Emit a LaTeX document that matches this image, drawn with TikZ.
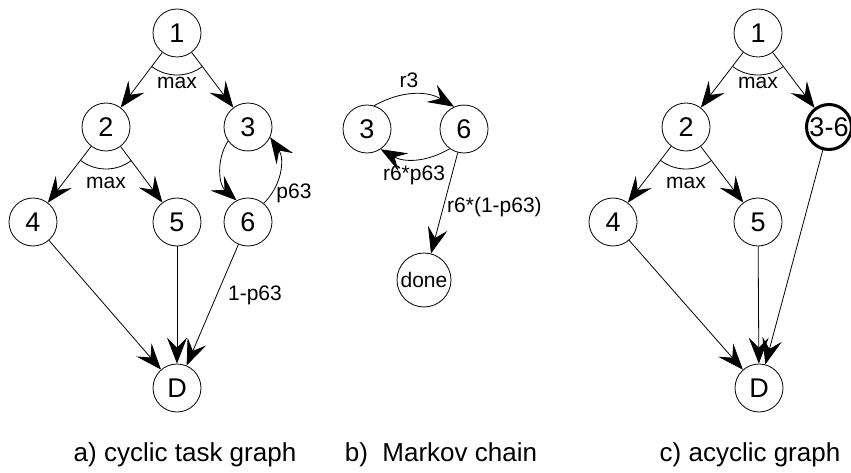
\documentclass[tikz,border=0pt]{standalone}
\usepackage{fontspec}
\setmainfont{Liberation Sans}
\usetikzlibrary{arrows.meta}

\begin{document}
\begin{tikzpicture}[x=1pt,y=-1pt,
    state/.style={draw,circle,minimum size=48pt,inner sep=0pt,line width=0.8pt,font=\fontsize{27}{30}\selectfont},
    edge/.style={-{Stealth[length=26pt,width=20pt,inset=10pt]},line width=0.8pt},
    maxarc/.style={line width=0.8pt},
    lbl/.style={font=\fontsize{21}{24}\selectfont,inner sep=0pt},
    caption/.style={font=\fontsize{26}{30}\selectfont,inner sep=0pt}]
\useasboundingbox (0,0) rectangle (851,473);

% a) cyclic task graph
\node[state] (a1) at (177,33) {1};
\node[state] (a2) at (106,127) {2};
\node[state] (a3) at (248,127) {3};
\node[state] (a4) at (33,222) {4};
\node[state] (a5) at (177,222) {5};
\node[state] (a6) at (248,222) {6};
\node[state] (aD) at (177,388) {D};
\draw[edge] (a1) -- (a2);
\draw[edge] (a1) -- (a3);
\draw[edge] (a2) -- (a4);
\draw[edge] (a2) -- (a5);
\draw[edge] (a3.215) to[bend right=40] (a6.118);
\draw[edge] (a6.50) to[bend right=40] (a3.-25);
\draw[edge] (a4) -- (aD);
\draw[edge] (a5) -- (aD);
\draw[edge] (a6) -- (aD);
\draw[maxarc,shift={(a1)}] (233:42pt) arc[start angle=233,end angle=307,radius=42pt];
\draw[maxarc,shift={(a2)}] (233:42pt) arc[start angle=233,end angle=307,radius=42pt];
\node[lbl] (amax1) at (177,83) {max};
\node[lbl] (amax2) at (106,183) {max};
\node[lbl] (ap63) at (294,193) {p63};
\node[lbl] (aexit) at (255,295) {1-p63};
\node[caption] (acap) at (185,455) {a) cyclic task graph};

% b) Markov chain
\node[state] (b3) at (367,129) {3};
\node[state] (b6) at (464,129) {6};
\node[state,minimum size=54pt,font=\fontsize{21}{24}\selectfont] (bdone) at (424,280) {done};
\draw[edge] (b3.73) to[bend left=30] (b6.114);
\draw[edge] (b6.234) to[bend left=30] (b3.-56);
\draw[edge] (b6) -- (bdone);
\node[lbl] (br3) at (409,80) {r3};
\node[lbl] (bback) at (414,175) {r6*p63};
\node[lbl,anchor=west] (bexit) at (447,207) {r6*(1-p63)};
\node[caption] (bcap) at (441,455) {b)\ \ Markov chain};

% c) acyclic graph
\node[state] (c1) at (758,33) {1};
\node[state] (c2) at (686,127) {2};
\node[state,minimum size=45pt,line width=3pt] (c36) at (829,127) {3-6};
\node[state] (c4) at (613,222) {4};
\node[state] (c5) at (758,222) {5};
\node[state] (cD) at (759,388) {D};
\draw[edge] (c1) -- (c2);
\draw[edge] (c1) -- (c36);
\draw[edge] (c2) -- (c4);
\draw[edge] (c2) -- (c5);
\draw[edge] (c4) -- (cD);
\draw[edge] (c5) -- (cD);
\draw[edge] (c36) -- (cD);
\draw[maxarc,shift={(c1)}] (233:42pt) arc[start angle=233,end angle=307,radius=42pt];
\draw[maxarc,shift={(c2)}] (233:42pt) arc[start angle=233,end angle=307,radius=42pt];
\node[lbl] (cmax1) at (758,83) {max};
\node[lbl] (cmax2) at (686,183) {max};
\node[caption] (ccap) at (750,455) {c) acyclic graph};
\end{tikzpicture}
\end{document}
